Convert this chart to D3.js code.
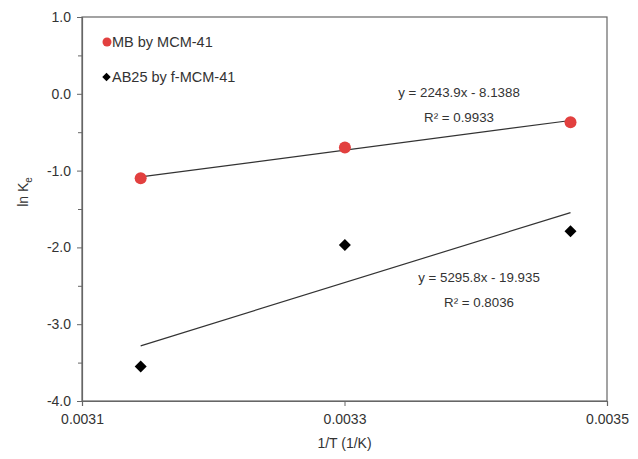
<!DOCTYPE html>
<html lang="en">
<meta charset="utf-8">
<title>ln Ke vs 1/T</title>
<script src="https://d3js.org/d3.v7.min.js"></script>
<style>
  body { margin: 0; background: #fff; }
  text { font-family: "Liberation Sans", Arial, sans-serif; fill: #333; }
</style>
<svg width="638" height="459"></svg>
<script>
// data
var invT = [0.0031447, 0.0033003, 0.0034722];
var mbLnK = [-1.10, -0.70, -0.37];
var abLnK = [-3.55, -1.97, -1.79];
var mbFit = { slope: 2243.9, icpt: -8.1388, label: "y = 2243.9x - 8.1388", r2: "R\u00b2 = 0.9933" };
var abFit = { slope: 5295.8, icpt: -19.935, label: "y = 5295.8x - 19.935", r2: "R\u00b2 = 0.8036" };
var xTicks = [0.0031, 0.0033, 0.0035];
var yTicks = [1, 0, -1, -2, -3, -4];
var yMinor = [0.5, -0.5, -1.5, -2.5, -3.5];

var svg = d3.select("svg");
var margin = {top: 17, right: 31, bottom: 58, left: 82};
var width = 638 - margin.left - margin.right;
var height = 459 - margin.top - margin.bottom;
var g = svg.append("g").attr("transform", "translate(" + margin.left + "," + margin.top + ")");

var x = d3.scaleLinear().domain([0.0031, 0.0035]).range([0, width]);
var y = d3.scaleLinear().domain([-4, 1]).range([height, 0]);

// frame
g.append("rect")
    .attr("width", width).attr("height", height)
    .attr("fill", "none").attr("stroke", "#666").attr("stroke-width", 1.2);

// y axis
var yAxis = g.append("g")
    .call(d3.axisLeft(y).tickValues(yTicks).tickSize(5).tickPadding(6).tickFormat(d3.format(".1f")));
yAxis.select(".domain").attr("stroke", "#666").attr("stroke-width", 1.2);
yAxis.selectAll(".tick line").attr("stroke", "#666");
yAxis.selectAll("text").attr("font-size", 14).attr("fill", "#333")
    .text(function(d) { return d3.format(".1f")(d).replace("\u2212", "-"); });
g.append("g")
    .call(d3.axisLeft(y).tickValues(yMinor).tickSize(4).tickFormat(""))
    .call(function(s) { s.select(".domain").remove(); s.selectAll("line").attr("stroke", "#666"); });

// x axis
var xAxis = g.append("g")
    .attr("transform", "translate(0," + height + ")")
    .call(d3.axisBottom(x).tickValues(xTicks).tickSize(5).tickPadding(8).tickFormat(d3.format(".4f")));
xAxis.select(".domain").attr("stroke", "#666").attr("stroke-width", 1.2);
xAxis.selectAll(".tick line").attr("stroke", "#666");
xAxis.selectAll("text").attr("font-size", 14).attr("fill", "#333");

// axis titles
svg.append("text")
    .attr("x", margin.left + width / 2).attr("y", 448)
    .attr("text-anchor", "middle").attr("font-size", 14)
    .text("1/T (1/K)");
var yt = svg.append("text")
    .attr("transform", "translate(28,192) rotate(-90)")
    .attr("text-anchor", "middle").attr("font-size", 14);
yt.append("tspan").text("ln K");
yt.append("tspan").attr("font-size", 10).attr("dy", 4).text("e");

// trend lines
var x0 = d3.min(invT), x1 = d3.max(invT);
[mbFit, abFit].forEach(function(f) {
  g.append("line")
      .attr("x1", x(x0)).attr("y1", y(f.slope * x0 + f.icpt))
      .attr("x2", x(x1)).attr("y2", y(f.slope * x1 + f.icpt))
      .attr("stroke", "#333").attr("stroke-width", 1.2);
});

// points
g.selectAll(".mb").data(invT).enter().append("circle")
    .attr("cx", function(d) { return x(d); })
    .attr("cy", function(d, i) { return y(mbLnK[i]); })
    .attr("r", 6).attr("fill", "#e2403f");
var diamond = d3.symbol().type(d3.symbolSquare).size(72);
g.selectAll(".ab").data(invT).enter().append("path")
    .attr("d", diamond)
    .attr("transform", function(d, i) { return "translate(" + x(d) + "," + y(abLnK[i]) + ") rotate(45)"; })
    .attr("fill", "#000");

// legend
svg.append("circle").attr("cx", 107).attr("cy", 42).attr("r", 4.5).attr("fill", "#e2403f");
svg.append("text").attr("x", 112).attr("y", 47).attr("font-size", 14.5).text("MB by MCM-41");
svg.append("path").attr("d", d3.symbol().type(d3.symbolSquare).size(36))
    .attr("transform", "translate(106.5,77) rotate(45)").attr("fill", "#000");
svg.append("text").attr("x", 112).attr("y", 82).attr("font-size", 14.5).text("AB25 by f-MCM-41");

// equations
function eq(f, cx, cy) {
  svg.append("text").attr("x", cx).attr("y", cy).attr("text-anchor", "middle")
      .attr("font-size", 13.3).text(f.label);
  svg.append("text").attr("x", cx).attr("y", cy + 25).attr("text-anchor", "middle")
      .attr("font-size", 13.3).text(f.r2);
}
eq(mbFit, 459, 97);
eq(abFit, 479, 282);
</script>
</html>
